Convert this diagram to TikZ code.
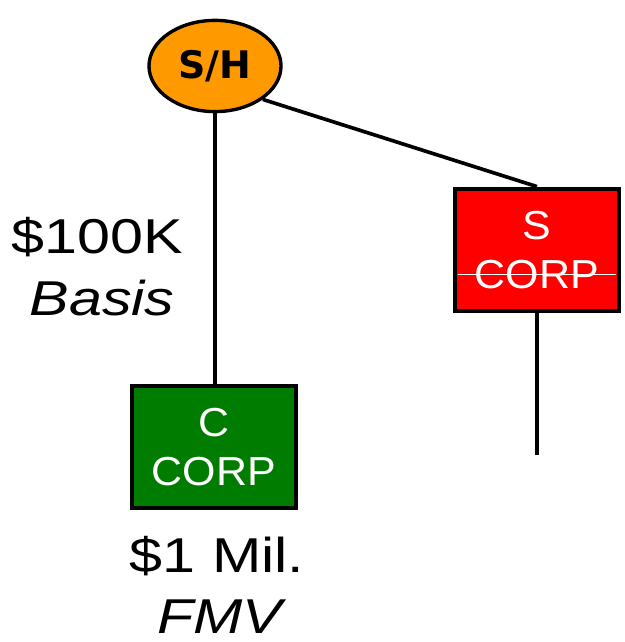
\documentclass[tikz,border=0pt]{standalone}
\usepackage{fontspec}
\setmainfont{Liberation Sans}[FakeStretch=1.21]
\newfontfamily\corpfont{Liberation Sans}[FakeStretch=1.06]
\newfontfamily\shfont{DejaVu Sans}
\usetikzlibrary{calc,positioning,shapes.geometric}
\definecolor{shorange}{RGB}{255,153,0}
\definecolor{corpgreen}{RGB}{0,125,0}
\definecolor{corpred}{RGB}{255,0,0}

\begin{document}
\begin{tikzpicture}[x=0.025cm, y=-0.025cm,
      entity/.style={draw=black, line width=2.8pt, minimum width=4.12cm, minimum height=3.07cm, align=center, inner sep=0pt, text=white, font=\corpfont\fontsize{28.8}{35}\selectfont},
      link/.style={line width=2.6pt},
      amount/.style={anchor=base, inner sep=0pt, font=\fontsize{34.8}{43}\selectfont}
    ]
      \useasboundingbox (0,0) rectangle (624,642);

      % Shareholder
      \node[ellipse, draw=black, line width=2.4pt, fill=shorange, minimum width=3.3cm, minimum height=2.28cm, inner sep=0pt, font=\shfont\bfseries\fontsize{27}{32}\selectfont] (sh) at (215,66) {S/H};

      % Corporations
      \node[entity, fill=corpgreen] (ccorp) at (214,447) {C\\CORP};
      \node[entity, fill=corpred] (scorp) at (537,250) {S\\CORP};
      \draw[white, line width=0.7pt] ($(scorp.west)+(5,24)$) -- ($(scorp.east)+(-5,24)$);

      % Links
      \draw[link] (sh.south) -- (sh.south |- ccorp.north);
      \draw[link] (sh.south east) -- (scorp.north);
      \coordinate (send) at (537,455);
      \draw[link] (scorp.south) -- (send);

      % Values
      \node[amount] (basisamt) at (97.5,254) {\$100K};
      \node[amount] (basis) at (102,315) {\textit{Basis}};
      \node[amount] (fmvamt) at (217,572) {\$1 Mil.};
      \node[amount] (fmv) at (222,633) {\textit{FMV}};
    \end{tikzpicture}
\end{document}
